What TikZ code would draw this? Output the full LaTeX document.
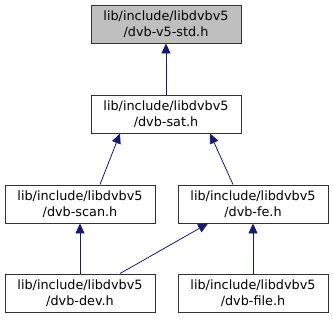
\documentclass[tikz,border=0pt]{standalone}
\usepackage{fontspec}
\setmainfont{DejaVu Sans}
\usetikzlibrary{arrows.meta}
\definecolor{edgeblue}{HTML}{191970}
\definecolor{boxgray}{HTML}{BFBFBF}
\begin{document}
\begin{tikzpicture}[x=1pt,y=1pt,
  box/.style={draw=black!80,line width=0.9pt,minimum width=150pt,minimum height=38pt,inner sep=0pt,align=center,font=\fontsize{12.8}{16.5}\selectfont},
  dep/.style={draw=edgeblue,line width=0.8pt,-{Triangle[length=10pt,width=9pt]}}]
\useasboundingbox (0,0) rectangle (333,320);
\node[box,fill=boxgray] (std) at (166,296) {lib/include/libdvbv5\\/dvb-v5-std.h};
\node[box] (sat) at (166,206) {lib/include/libdvbv5\\/dvb-sat.h};
\node[box] (scan) at (80,116) {lib/include/libdvbv5\\/dvb-scan.h};
\node[box] (fe) at (253,116) {lib/include/libdvbv5\\/dvb-fe.h};
\node[box] (dev) at (80,27) {lib/include/libdvbv5\\/dvb-dev.h};
\node[box] (file) at (253,27) {lib/include/libdvbv5\\/dvb-file.h};
\draw[dep] (sat) -- (std);
\draw[dep] ([xshift=20pt]scan.north) -- ([xshift=-46pt]sat.south);
\draw[dep] ([xshift=-20pt]fe.north) -- ([xshift=44pt]sat.south);
\draw[dep] (dev) -- (scan);
\draw[dep] ([xshift=40pt]dev.north) -- ([xshift=-45pt]fe.south);
\draw[dep] (file) -- (fe);
\end{tikzpicture}
\end{document}
